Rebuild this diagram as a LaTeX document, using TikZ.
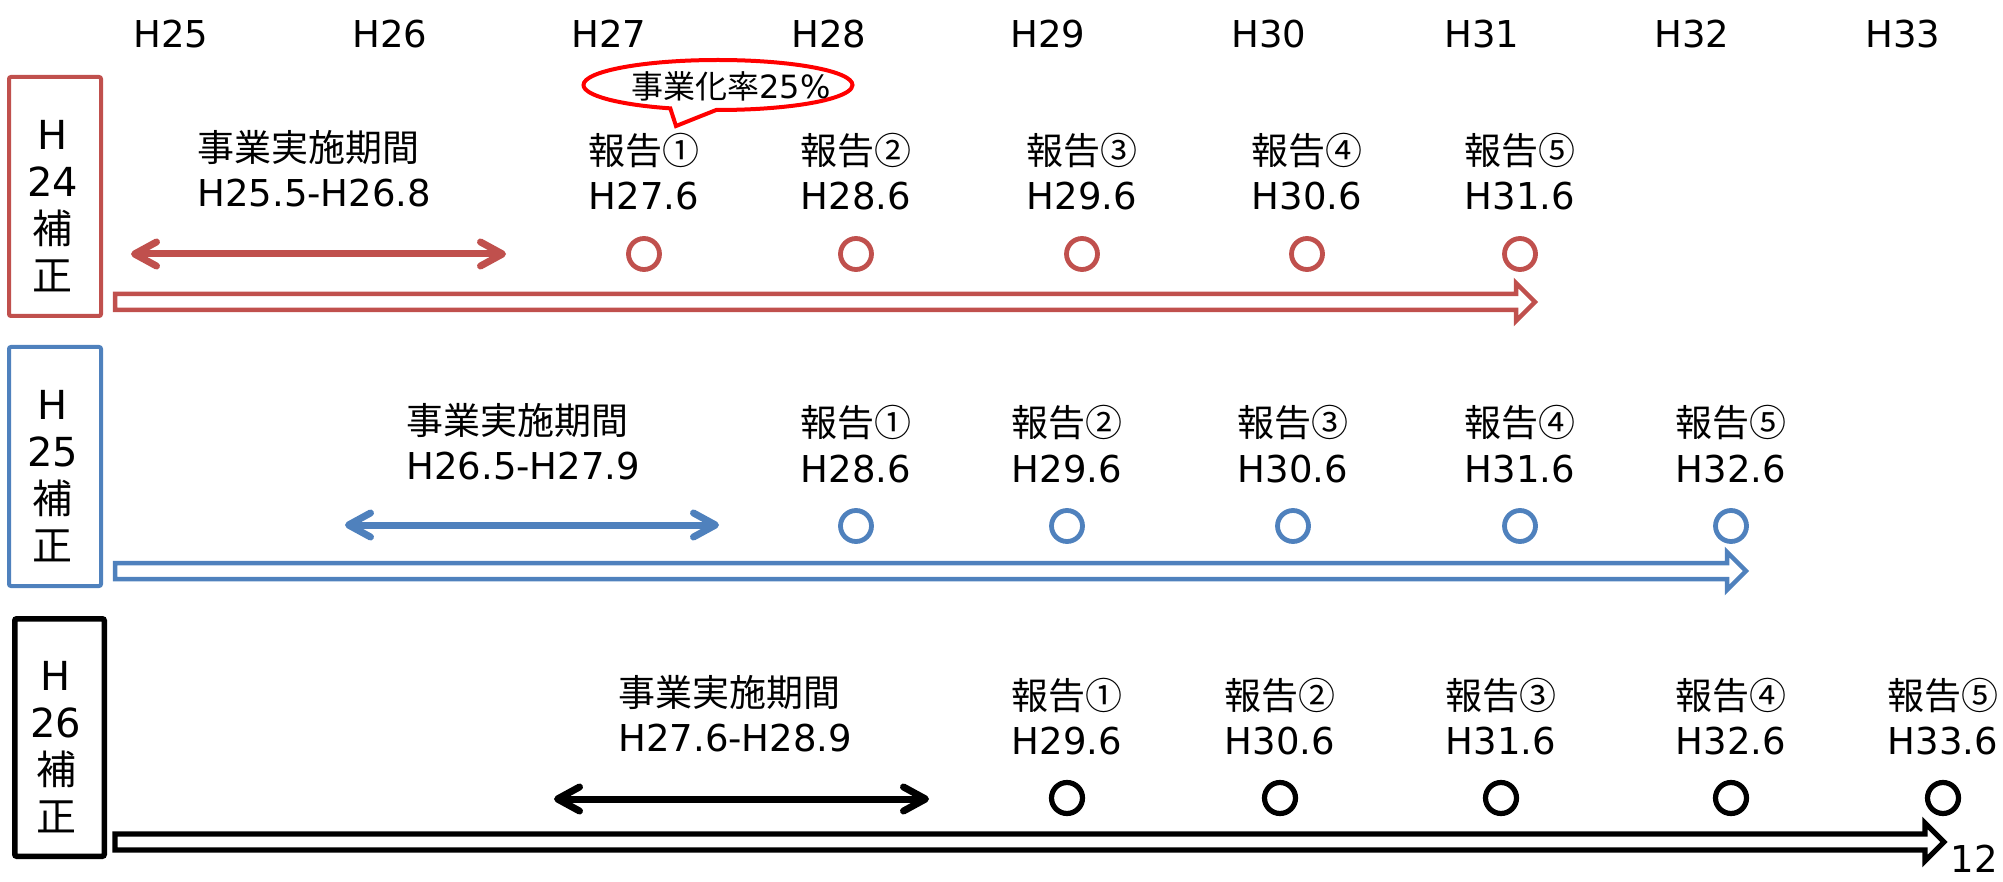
\documentclass[tikz,border=0pt]{standalone}
\usepackage{fontspec}
\setmainfont{DejaVu Sans}
\newfontfamily\jp{Noto Sans CJK JP}
\usetikzlibrary{arrows.meta,shapes.callouts,shapes.geometric}
\definecolor{cred}{HTML}{C0504D}
\definecolor{cblue}{HTML}{4F81BD}
\definecolor{calert}{HTML}{FF0000}
\newcommand\tlband[4]{%
  \draw[line width=#4, line join=miter, draw=#1]
    (115,{#2-8}) -- ({#3-22},{#2-8}) -- ({#3-22},{#2-19}) -- ({#3-3},#2)
    -- ({#3-22},{#2+19}) -- ({#3-22},{#2+8}) -- (115,{#2+8}) -- cycle;}
\begin{document}
\begin{tikzpicture}[x=0.5pt,y=-0.5pt,
  txt/.style={inner sep=0, anchor=base, font=\fontsize{18.5}{22}\selectfont},
  perw/.style={inner sep=0, anchor=base west, font=\fontsize{18.5}{22}\selectfont},
  ring/.style={circle, draw, line width=2.4pt, minimum size=15.5pt, inner sep=0},
  dbl/.style={line width=3.5pt, line cap=round,
    {Straight Barb[length=11pt,width=12pt,round]}-{Straight Barb[length=11pt,width=12pt,round]}},
  lbox/.style={draw, rounded corners=1pt, inner sep=0},
  boxtxt/.style={inner sep=0, anchor=north, align=center, font=\fontsize{20}{23.5}\selectfont},
]
\useasboundingbox (0,0) rectangle (2003,882);

% year header
\foreach \x/\t [count=\i] in {171/H25,390/H26,609/H27,829/H28,1048/H29,1269/H30,1482/H31,1692/H32,1903/H33}
  \node[txt] (yr\i) at (\x,48) {\t};

% left boxes
\node[lbox, draw=cred, line width=2pt, minimum width=46pt, minimum height=119.5pt] (boxa) at (55,196.5) {};
\node[boxtxt] (boxat) at (53,120) {H\\24\\{\jp 補}\\{\jp 正}};
\node[lbox, draw=cblue, line width=2pt, minimum width=46pt, minimum height=119.5pt] (boxb) at (55,466.5) {};
\node[boxtxt] (boxbt) at (53,390) {H\\25\\{\jp 補}\\{\jp 正}};
\node[lbox, draw=black, line width=2.75pt, minimum width=44.75pt, minimum height=118.75pt] (boxc) at (59.5,737.5) {};
\node[boxtxt] (boxct) at (56,661) {H\\26\\{\jp 補}\\{\jp 正}};

% periods
\node[perw] (pa1) at (197,162) {\jp 事業実施期間};
\node[perw] (pa2) at (197,207) {H25.5-H26.8};
\node[perw] (pb1) at (406,434) {\jp 事業実施期間};
\node[perw] (pb2) at (406,479) {H26.5-H27.9};
\node[perw] (pc1) at (618,706) {\jp 事業実施期間};
\node[perw] (pc2) at (618,751) {H27.6-H28.9};

\coordinate (da1) at (131,254); \coordinate (da2) at (506,254);
\coordinate (db1) at (345,525); \coordinate (db2) at (719,525);
\coordinate (dc1) at (554,799); \coordinate (dc2) at (929,799);
\draw[dbl, cred] (da1) -- (da2);
\draw[dbl, cblue] (db1) -- (db2);
\draw[dbl, black] (dc1) -- (dc2);

% reports
\foreach \x/\c/\d [count=\i] in {644/①/H27.6,856/②/H28.6,1082/③/H29.6,1307/④/H30.6,1520/⑤/H31.6}{
  \node[txt] (ra\i) at (\x,165) {\jp 報告\c};
  \node[txt] (rd\i) at (\x,210) {\d};
  \node[ring, draw=cred] (rr\i) at (\x,254) {};
}
\foreach \x/\c/\d [count=\i] in {856/①/H28.6,1067/②/H29.6,1293/③/H30.6,1520/④/H31.6,1731/⑤/H32.6}{
  \node[txt] (ba\i) at (\x,437) {\jp 報告\c};
  \node[txt] (bd\i) at (\x,482) {\d};
  \node[ring, draw=cblue] (br\i) at (\x,526) {};
}
\foreach \x/\c/\d [count=\i] in {1067/①/H29.6,1280/②/H30.6,1501/③/H31.6,1731/④/H32.6,1943/⑤/H33.6}{
  \node[txt] (ka\i) at (\x,709) {\jp 報告\c};
  \node[txt] (kd\i) at (\x,754) {\d};
  \node[ring, draw=black, line width=2.6pt] (kr\i) at (\x,798) {};
}

% timeline bands
\tlband{cred}{302}{1538}{2.25pt}
\tlband{cblue}{571}{1749}{2.25pt}
\tlband{black}{842}{1947}{2.6pt}

% callout
\node[ellipse callout, draw=calert, line width=2pt, minimum width=134.5pt, minimum height=25pt,
  inner sep=0, callout absolute pointer={(676,126)}, callout pointer arc=20] (callout) at (718,85) {};
\node[inner sep=0, anchor=base, font=\fontsize{16}{19}\selectfont] (cotext) at (731,99) {{\jp 事業化率}25\%};

\node[txt] (pageno) at (1974,872) {12};
\end{tikzpicture}
\end{document}
